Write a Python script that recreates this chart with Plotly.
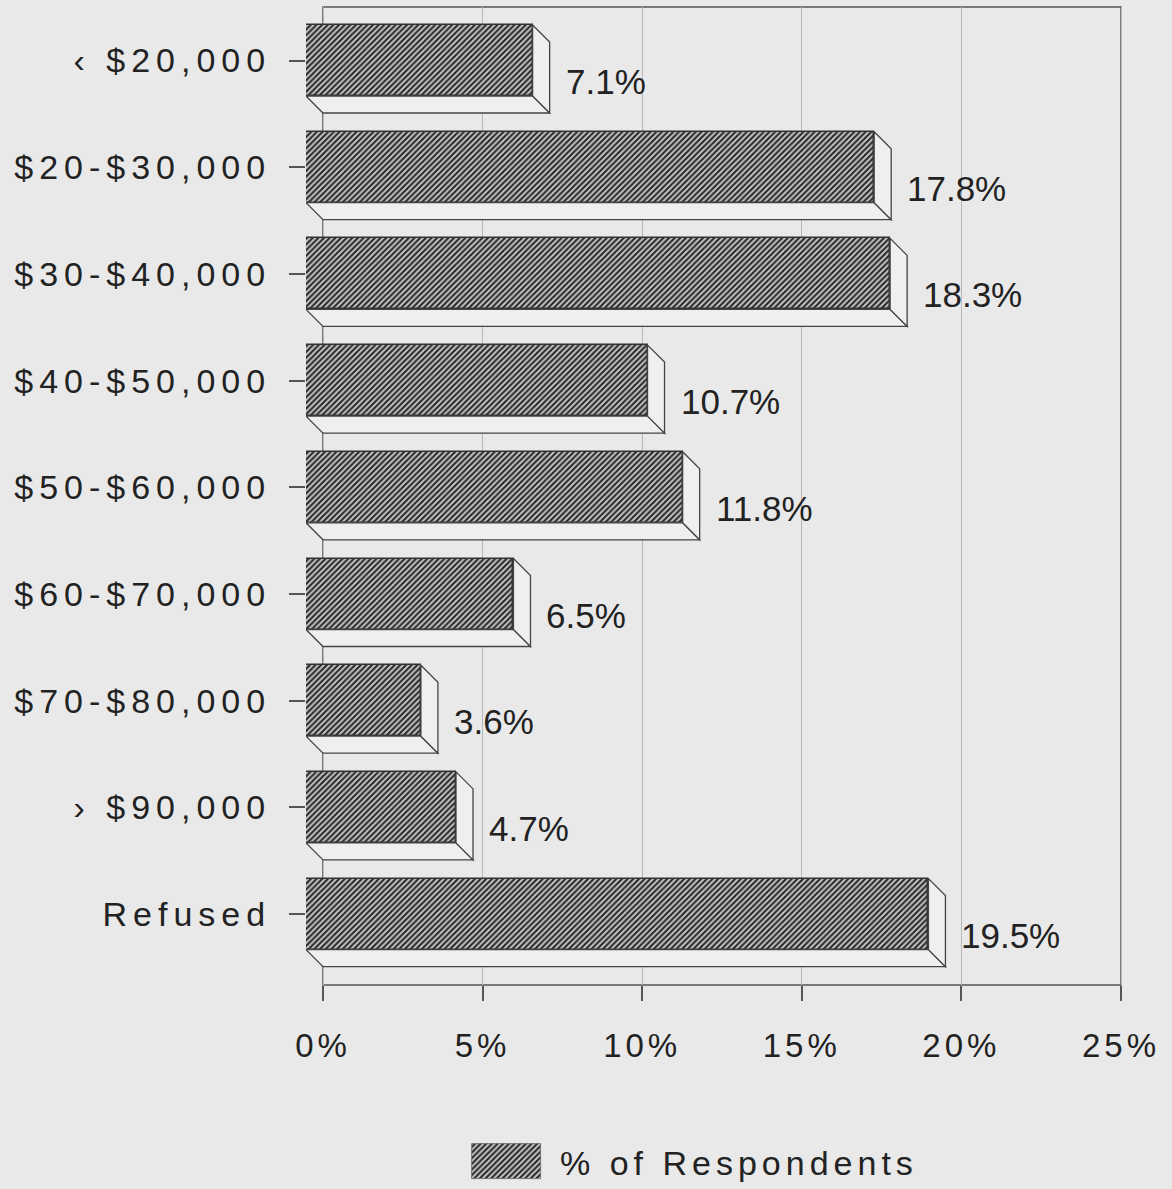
import plotly.graph_objects as go

# ---- data -------------------------------------------------------------
categories = ["\u2039 $20,000", "$20-$30,000", "$30-$40,000", "$40-$50,000",
              "$50-$60,000", "$60-$70,000", "$70-$80,000", "\u203a $90,000", "Refused"]
values = [7.1, 17.8, 18.3, 10.7, 11.8, 6.5, 3.6, 4.7, 19.5]
x_ticks = [0, 5, 10, 15, 20, 25]
x_tick_labels = [f"{t}%" for t in x_ticks]
series_name = "% of Respondents"

# ---- geometry (pixels) ----------------------------------------------------
W, H = 1172, 1189
PLOT_L, PLOT_R = 306, 1124       # plot area incl. the front-plane offset
PLOT_T, PLOT_B = 7, 985          # back wall top / floor
PX_PER_PCT = 31.92               # horizontal scale on the back wall
ROW = 106.7                      # category pitch
FIRST_ROW = 77.5                 # centre of first category on the back wall
DEPTH = 17                       # 3-D depth offset (px, both directions)
BAR_PX = 71                      # bar thickness

DX = DEPTH / PX_PER_PCT
DY = DEPTH / ROW
BAR_H = BAR_PX / ROW
x_range = [-DX, (PLOT_R - PLOT_L) / PX_PER_PCT - DX]
y_range = [(PLOT_B - FIRST_ROW) / ROW, (PLOT_T - FIRST_ROW) / ROW]

BG = "#e9e9e9"
FACE = "#efefef"
EDGE = "#333333"
TEXT = "#222222"
FONT = "Liberation Sans, Arial, Helvetica, sans-serif"

hatch = dict(shape="/", fgcolor="#262626", bgcolor="#c4c4c4", size=4, solidity=0.5)

idx = list(range(len(categories)))

fig = go.Figure()

# front faces of the bars
fig.add_trace(go.Bar(
    x=values,
    y=[i - DY for i in idx],
    base=[-DX] * len(values),
    orientation="h",
    width=BAR_H,
    name=series_name,
    marker=dict(color="#c4c4c4", pattern=hatch, line=dict(color=EDGE, width=1.5)),
    showlegend=False,
    hoverinfo="skip",
))

# legend key drawn as its own small subplot
fig.add_trace(go.Bar(
    x=[1], y=[0], base=[0], orientation="h", width=1,
    xaxis="x2", yaxis="y2",
    name=series_name,
    marker=dict(color="#c4c4c4", pattern=hatch, line=dict(color="#666666", width=0.8)),
    showlegend=False,
    hoverinfo="skip",
))

shapes = []
# back wall and floor line
shapes.append(dict(type="rect", xref="x", yref="y domain", x0=0, x1=x_ticks[-1], y0=0, y1=1,
                   line=dict(color="#555555", width=1.5), fillcolor="rgba(0,0,0,0)",
                   layer="below"))

# side and bottom faces giving each bar its depth
for i, v in zip(idx, values):
    f_top = i - DY - BAR_H / 2
    f_bot = i - DY + BAR_H / 2
    b_top = i - BAR_H / 2
    b_bot = i + BAR_H / 2
    side = (f"M {v - DX},{f_top} L {v},{b_top} L {v},{b_bot} "
            f"L {v - DX},{f_bot} Z")
    bottom = (f"M {-DX},{f_bot} L {v - DX},{f_bot} L {v},{b_bot} "
              f"L 0,{b_bot} Z")
    for p in (bottom, side):
        shapes.append(dict(type="path", path=p, xref="x", yref="y",
                           fillcolor=FACE, line=dict(color="#444444", width=1.3),
                           layer="above"))

annotations = []
for i, v in zip(idx, values):
    annotations.append(dict(
        x=v, y=i, xref="x", yref="y", text=f"{v}%",
        xanchor="left", yanchor="middle", xshift=14, yshift=-4,
        showarrow=False, font=dict(family=FONT, size=35, color=TEXT),
    ))

# legend label
annotations.append(dict(
    x=739 / W, y=1 - 1163 / H, xref="paper", yref="paper",
    text=series_name, xanchor="center", yanchor="middle",
    showarrow=False, font=dict(family=FONT, size=34, color=TEXT),
))

fig.update_layout(
    template="none",
    width=W, height=H, autosize=False,
    margin=dict(l=0, r=0, t=0, b=0, pad=0),
    paper_bgcolor=BG, plot_bgcolor=BG,
    showlegend=False,
    bargap=0,
    shapes=shapes,
    annotations=annotations,
    xaxis=dict(
        domain=[PLOT_L / W, PLOT_R / W],
        range=x_range,
        tickmode="array", tickvals=x_ticks, ticktext=x_tick_labels,
        ticks="outside", ticklen=15, tickwidth=1.5, tickcolor="#555555",
        showgrid=True, gridcolor="#b8b8b8", gridwidth=1,
        zeroline=False, showline=False, automargin=False,
        ticklabelstandoff=16,
        tickfont=dict(family=FONT, size=33, color=TEXT),
        fixedrange=True,
    ),
    yaxis=dict(
        domain=[1 - PLOT_B / H, 1 - PLOT_T / H],
        range=y_range,
        tickmode="array", tickvals=[i - DY for i in idx], ticktext=categories,
        ticks="outside", ticklen=16, tickwidth=1.5, tickcolor="#555555",
        showgrid=False, zeroline=False, showline=False, automargin=False,
        ticklabelstandoff=11,
        tickfont=dict(family=FONT, size=34, color=TEXT),
        fixedrange=True,
    ),
    xaxis2=dict(domain=[470 / W, 543 / W], range=[-0.03, 1.03], visible=False,
                anchor="y2", fixedrange=True, automargin=False),
    yaxis2=dict(domain=[1 - 1180 / H, 1 - 1143 / H], range=[-0.53, 0.53], visible=False,
                anchor="x2", fixedrange=True, automargin=False),
)

# widen the character spacing of the axis and legend labels
TRACKING_JS = """
var gd = document.getElementById('{plot_id}');
gd.querySelectorAll('.ytick text').forEach(function(t){ t.style.letterSpacing = '6px'; });
gd.querySelectorAll('.xtick text').forEach(function(t){ t.style.letterSpacing = '4px'; });
gd.querySelectorAll('.annotation-text').forEach(function(t){
  if (t.textContent.indexOf('Respondents') >= 0) { t.style.letterSpacing = '5px'; }
});
"""

fig.write_html("out.html",
               config={"displayModeBar": False, "responsive": False},
               post_script=TRACKING_JS)
